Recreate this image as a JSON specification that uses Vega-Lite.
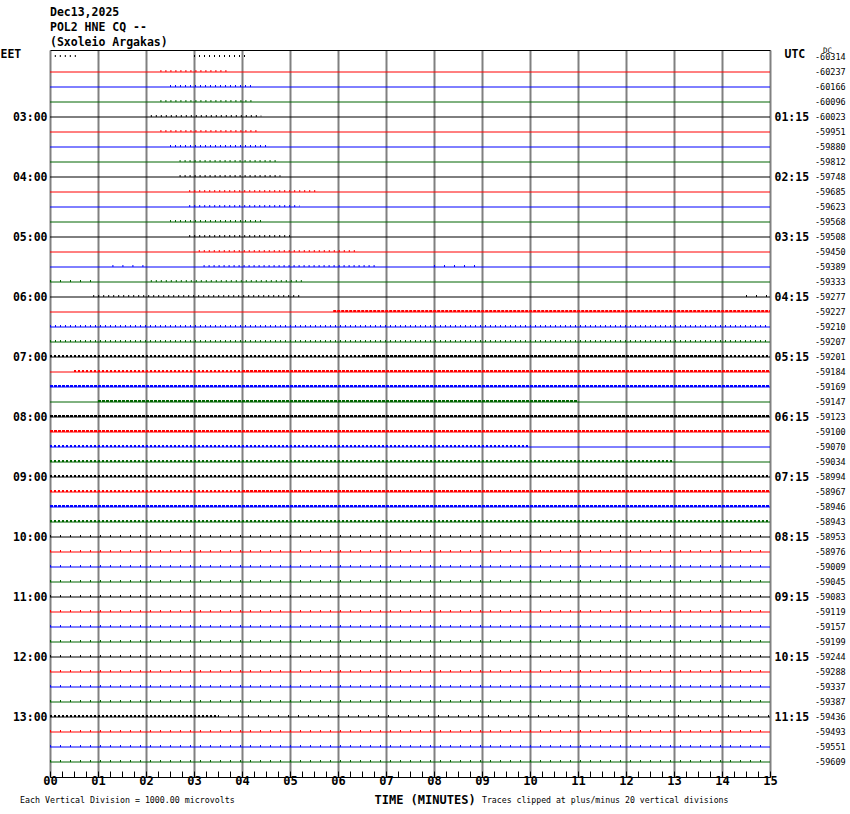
{
  "$schema": "https://vega.github.io/schema/vega-lite/v6.json",
  "width": 720,
  "height": 727,
  "autosize": {"type": "none"},
  "padding": {"left": 50, "top": 50, "right": 80, "bottom": 37},
  "background": "white",
  "config": {"view": {"stroke": null}, "font": "DejaVu Sans Mono"},
  "title": {
    "text": ["Dec13,2025", "POL2 HNE CQ --", "(Sxoleio Argakas)"],
    "anchor": "start",
    "frame": "group",
    "font": "DejaVu Sans Mono",
    "fontSize": 11.5,
    "fontWeight": "bold",
    "color": "black",
    "lineHeight": 15,
    "baseline": "bottom",
    "offset": 3,
    "dy": 15
  },
  "datasets": {
    "traces": [
      {"k": 0, "q": "00", "dc": "-60314"}, {"k": 1, "q": "15", "dc": "-60237"}, {"k": 2, "q": "30", "dc": "-60166"}, {"k": 3, "q": "45", "dc": "-60096"},
      {"k": 4, "q": "00", "dc": "-60023"}, {"k": 5, "q": "15", "dc": "-59951"}, {"k": 6, "q": "30", "dc": "-59880"}, {"k": 7, "q": "45", "dc": "-59812"},
      {"k": 8, "q": "00", "dc": "-59748"}, {"k": 9, "q": "15", "dc": "-59685"}, {"k": 10, "q": "30", "dc": "-59623"}, {"k": 11, "q": "45", "dc": "-59568"},
      {"k": 12, "q": "00", "dc": "-59508"}, {"k": 13, "q": "15", "dc": "-59450"}, {"k": 14, "q": "30", "dc": "-59389"}, {"k": 15, "q": "45", "dc": "-59333"},
      {"k": 16, "q": "00", "dc": "-59277"}, {"k": 17, "q": "15", "dc": "-59227"}, {"k": 18, "q": "30", "dc": "-59210"}, {"k": 19, "q": "45", "dc": "-59207"},
      {"k": 20, "q": "00", "dc": "-59201"}, {"k": 21, "q": "15", "dc": "-59184"}, {"k": 22, "q": "30", "dc": "-59169"}, {"k": 23, "q": "45", "dc": "-59147"},
      {"k": 24, "q": "00", "dc": "-59123"}, {"k": 25, "q": "15", "dc": "-59100"}, {"k": 26, "q": "30", "dc": "-59070"}, {"k": 27, "q": "45", "dc": "-59034"},
      {"k": 28, "q": "00", "dc": "-58994"}, {"k": 29, "q": "15", "dc": "-58967"}, {"k": 30, "q": "30", "dc": "-58946"}, {"k": 31, "q": "45", "dc": "-58943"},
      {"k": 32, "q": "00", "dc": "-58953"}, {"k": 33, "q": "15", "dc": "-58976"}, {"k": 34, "q": "30", "dc": "-59009"}, {"k": 35, "q": "45", "dc": "-59045"},
      {"k": 36, "q": "00", "dc": "-59083"}, {"k": 37, "q": "15", "dc": "-59119"}, {"k": 38, "q": "30", "dc": "-59157"}, {"k": 39, "q": "45", "dc": "-59199"},
      {"k": 40, "q": "00", "dc": "-59244"}, {"k": 41, "q": "15", "dc": "-59288"}, {"k": 42, "q": "30", "dc": "-59337"}, {"k": 43, "q": "45", "dc": "-59387"},
      {"k": 44, "q": "00", "dc": "-59436"}, {"k": 45, "q": "15", "dc": "-59493"}, {"k": 46, "q": "30", "dc": "-59551"}, {"k": 47, "q": "45", "dc": "-59609"}
    ],
    "noise": [
      {"k": 0, "q": "00", "from": 0.1, "to": 0.6, "level": "low"}, {"k": 0, "q": "00", "from": 3.0, "to": 4.1, "level": "low"},
      {"k": 1, "q": "15", "from": 2.3, "to": 3.7, "level": "low"},
      {"k": 2, "q": "30", "from": 2.5, "to": 4.2, "level": "low"},
      {"k": 3, "q": "45", "from": 2.3, "to": 4.2, "level": "low"},
      {"k": 4, "q": "00", "from": 2.1, "to": 4.4, "level": "low"},
      {"k": 5, "q": "15", "from": 2.3, "to": 4.3, "level": "low"},
      {"k": 6, "q": "30", "from": 2.5, "to": 4.5, "level": "low"},
      {"k": 7, "q": "45", "from": 2.7, "to": 4.7, "level": "low"},
      {"k": 8, "q": "00", "from": 2.7, "to": 4.8, "level": "low"},
      {"k": 9, "q": "15", "from": 2.9, "to": 5.6, "level": "low"},
      {"k": 10, "q": "30", "from": 2.9, "to": 5.2, "level": "low"},
      {"k": 11, "q": "45", "from": 2.5, "to": 4.4, "level": "low"},
      {"k": 12, "q": "00", "from": 2.9, "to": 5.0, "level": "low"},
      {"k": 13, "q": "15", "from": 3.1, "to": 6.4, "level": "low"},
      {"k": 14, "q": "30", "from": 1.3, "to": 2.1, "level": "sparse"}, {"k": 14, "q": "30", "from": 3.2, "to": 6.8, "level": "low"}, {"k": 14, "q": "30", "from": 8.0, "to": 9.0, "level": "sparse"},
      {"k": 15, "q": "45", "from": 0.0, "to": 1.0, "level": "sparse"}, {"k": 15, "q": "45", "from": 2.1, "to": 5.3, "level": "low"},
      {"k": 16, "q": "00", "from": 0.9, "to": 5.2, "level": "low"}, {"k": 16, "q": "00", "from": 14.5, "to": 15, "level": "sparse"},
      {"k": 17, "q": "15", "from": 5.9, "to": 15, "level": "high"},
      {"k": 18, "q": "30", "from": 0, "to": 15, "level": "low"},
      {"k": 19, "q": "45", "from": 0, "to": 15, "level": "low"},
      {"k": 20, "q": "00", "from": 0, "to": 6.5, "level": "mid"}, {"k": 20, "q": "00", "from": 6.5, "to": 14, "level": "high"}, {"k": 20, "q": "00", "from": 14, "to": 15, "level": "mid"},
      {"k": 21, "q": "15", "from": 0.5, "to": 4, "level": "mid"}, {"k": 21, "q": "15", "from": 4, "to": 15, "level": "high"},
      {"k": 22, "q": "30", "from": 0, "to": 15, "level": "high"},
      {"k": 23, "q": "45", "from": 1, "to": 11, "level": "high"},
      {"k": 24, "q": "00", "from": 0, "to": 15, "level": "high"},
      {"k": 25, "q": "15", "from": 0, "to": 15, "level": "high"},
      {"k": 26, "q": "30", "from": 0, "to": 10, "level": "mid"},
      {"k": 27, "q": "45", "from": 0, "to": 13, "level": "mid"},
      {"k": 28, "q": "00", "from": 0, "to": 15, "level": "mid"},
      {"k": 29, "q": "15", "from": 0, "to": 4, "level": "mid"}, {"k": 29, "q": "15", "from": 4, "to": 15, "level": "high"},
      {"k": 30, "q": "30", "from": 0, "to": 15, "level": "high"},
      {"k": 31, "q": "45", "from": 0, "to": 15, "level": "mid"},
      {"k": 32, "q": "00", "from": 0, "to": 15, "level": "sparse"},
      {"k": 33, "q": "15", "from": 0, "to": 15, "level": "sparse"},
      {"k": 34, "q": "30", "from": 0, "to": 15, "level": "sparse"},
      {"k": 35, "q": "45", "from": 0, "to": 15, "level": "sparse"},
      {"k": 36, "q": "00", "from": 0, "to": 15, "level": "sparse"},
      {"k": 37, "q": "15", "from": 0, "to": 15, "level": "sparse"},
      {"k": 38, "q": "30", "from": 0, "to": 15, "level": "sparse"},
      {"k": 39, "q": "45", "from": 0, "to": 15, "level": "sparse"},
      {"k": 40, "q": "00", "from": 0, "to": 15, "level": "sparse"},
      {"k": 41, "q": "15", "from": 0, "to": 15, "level": "sparse"},
      {"k": 42, "q": "30", "from": 0, "to": 15, "level": "sparse"},
      {"k": 43, "q": "45", "from": 0, "to": 15, "level": "sparse"},
      {"k": 44, "q": "00", "from": 0, "to": 3.5, "level": "mid"}, {"k": 44, "q": "00", "from": 3.5, "to": 15, "level": "sparse"},
      {"k": 45, "q": "15", "from": 0, "to": 15, "level": "sparse"},
      {"k": 46, "q": "30", "from": 0, "to": 15, "level": "sparse"},
      {"k": 47, "q": "45", "from": 0, "to": 15, "level": "sparse"}
    ]
  },
  "layer": [
    {
      "data": {"name": "traces"},
      "transform": [{"filter": "datum.k > 0"}],
      "mark": {"type": "rule", "strokeWidth": 1},
      "encoding": {
        "x": {
          "datum": 0,
          "type": "quantitative",
          "scale": {"domain": [0, 15], "nice": false, "zero": false},
          "axis": {
            "orient": "bottom",
            "values": [0, 0.25, 0.5, 0.75, 1, 1.25, 1.5, 1.75, 2, 2.25, 2.5, 2.75, 3, 3.25, 3.5, 3.75, 4, 4.25, 4.5, 4.75, 5, 5.25, 5.5, 5.75, 6, 6.25, 6.5, 6.75, 7, 7.25, 7.5, 7.75, 8, 8.25, 8.5, 8.75, 9, 9.25, 9.5, 9.75, 10, 10.25, 10.5, 10.75, 11, 11.25, 11.5, 11.75, 12, 12.25, 12.5, 12.75, 13, 13.25, 13.5, 13.75, 14, 14.25, 14.5, 14.75, 15],
            "labelExpr": "datum.value % 1 == 0 ? (datum.value < 10 ? '0' : '') + datum.value : ''",
            "labelFont": "DejaVu Sans Mono",
            "labelFontWeight": "bold",
            "labelFontSize": 12,
            "labelColor": "black",
            "labelPadding": 4,
            "labelFlush": false,
            "labelOverlap": false,
            "tickSize": -6,
            "tickColor": "black",
            "tickWidth": 1,
            "domainColor": "black",
            "domainWidth": 1,
            "grid": true,
            "gridColor": "#808080",
            "gridWidth": 2,
            "gridOpacity": {"condition": {"test": "datum.value % 1 == 0", "value": 1}, "value": 0},
            "title": "TIME (MINUTES)",
            "titleFont": "DejaVu Sans Mono",
            "titleFontWeight": "bold",
            "titleFontSize": 12,
            "titleColor": "black",
            "titleX": 324,
            "titleY": 22,
            "titleAlign": "left",
            "titleBaseline": "middle"
          }
        },
        "x2": {"datum": 15},
        "y": {
          "field": "k",
          "type": "quantitative",
          "scale": {"domain": [-0.4667, 48], "reverse": true, "nice": false, "zero": false},
          "axis": {
            "orient": "left",
            "values": [4, 8, 12, 16, 20, 24, 28, 32, 36, 40, 44],
            "labelExpr": "(2 + datum.value / 4 < 10 ? '0' : '') + (2 + datum.value / 4) + ':00'",
            "labelFont": "DejaVu Sans Mono",
            "labelFontWeight": "bold",
            "labelFontSize": 11.5,
            "labelColor": "black",
            "labelPadding": 3,
            "labelBaseline": "middle",
            "domain": false,
            "ticks": false,
            "grid": false,
            "title": "EET",
            "titleAngle": 0,
            "titleX": -50,
            "titleY": 4,
            "titleAlign": "left",
            "titleBaseline": "middle",
            "titleFont": "DejaVu Sans Mono",
            "titleFontWeight": "bold",
            "titleFontSize": 11.5,
            "titleColor": "black"
          }
        },
        "color": {
          "field": "q",
          "type": "nominal",
          "scale": {"domain": ["00", "15", "30", "45"], "range": ["#000000", "#ff0000", "#0000ff", "#006400"]},
          "legend": null
        }
      }
    },
    {
      "data": {"name": "noise"},
      "mark": {"type": "rule", "yOffset": -1},
      "encoding": {
        "x": {
          "field": "from",
          "type": "quantitative",
          "scale": {"domain": [0, 15], "nice": false, "zero": false},
          "axis": {"orient": "top", "domain": true, "domainColor": "black", "domainWidth": 1, "ticks": false, "labels": false, "grid": false, "title": null}
        },
        "x2": {"field": "to"},
        "y": {
          "field": "k",
          "type": "quantitative",
          "scale": {"domain": [-0.4667, 48], "reverse": true, "nice": false, "zero": false},
          "axis": {
            "orient": "right",
            "values": [4, 8, 12, 16, 20, 24, 28, 32, 36, 40, 44],
            "labelExpr": "(datum.value / 4 < 10 ? '0' : '') + (datum.value / 4) + ':15'",
            "labelFont": "DejaVu Sans Mono",
            "labelFontWeight": "bold",
            "labelFontSize": 11.5,
            "labelColor": "black",
            "labelPadding": 4,
            "labelBaseline": "middle",
            "domain": false,
            "ticks": false,
            "grid": false,
            "title": "UTC",
            "titleAngle": 0,
            "titleX": 14,
            "titleY": 4,
            "titleAlign": "left",
            "titleBaseline": "middle",
            "titleFont": "DejaVu Sans Mono",
            "titleFontWeight": "bold",
            "titleFontSize": 11.5,
            "titleColor": "black"
          }
        },
        "color": {
          "field": "q",
          "type": "nominal",
          "scale": {"domain": ["00", "15", "30", "45"], "range": ["#000000", "#ff0000", "#0000ff", "#006400"]},
          "legend": null
        },
        "strokeDash": {
          "field": "level",
          "type": "nominal",
          "scale": {"domain": ["sparse", "low", "mid", "high"], "range": [[1, 9], [1, 4], [2, 2], [3, 1]]},
          "legend": null
        },
        "strokeWidth": {
          "field": "level",
          "type": "nominal",
          "scale": {"domain": ["sparse", "low", "mid", "high"], "range": [2, 2, 2, 2.5]},
          "legend": null
        }
      }
    },
    {
      "data": {"name": "traces"},
      "mark": {"type": "text", "align": "left", "baseline": "middle", "dx": 45, "font": "DejaVu Sans Mono", "fontSize": 8.5, "color": "black"},
      "encoding": {
        "x": {"datum": 15, "type": "quantitative", "scale": {"domain": [0, 15], "nice": false, "zero": false}, "axis": null},
        "y": {"field": "k", "type": "quantitative", "scale": {"domain": [-0.4667, 48], "reverse": true, "nice": false, "zero": false}, "axis": null},
        "text": {"field": "dc"}
      }
    },
    {
      "data": {"values": [{}]},
      "mark": {"type": "text", "text": "DC", "align": "left", "baseline": "middle", "dx": 53, "font": "DejaVu Sans Mono", "fontSize": 7.5, "color": "black"},
      "encoding": {
        "x": {"datum": 15, "type": "quantitative", "scale": {"domain": [0, 15], "nice": false, "zero": false}, "axis": null},
        "y": {"datum": -0.4, "type": "quantitative", "scale": {"domain": [-0.4667, 48], "reverse": true, "nice": false, "zero": false}, "axis": null}
      }
    },
    {
      "data": {"values": [{}]},
      "mark": {"type": "text", "text": "Each Vertical Division = 1000.00 microvolts", "align": "left", "baseline": "middle", "font": "DejaVu Sans Mono", "fontSize": 8.3, "color": "black"},
      "encoding": {
        "x": {"datum": -0.625, "type": "quantitative", "scale": {"domain": [0, 15], "nice": false, "zero": false}, "axis": null},
        "y": {"datum": 49.6, "type": "quantitative", "scale": {"domain": [-0.4667, 48], "reverse": true, "nice": false, "zero": false}, "axis": null}
      }
    },
    {
      "data": {"values": [{}]},
      "mark": {"type": "text", "text": "Traces clipped at plus/minus 20 vertical divisions", "align": "left", "baseline": "middle", "font": "DejaVu Sans Mono", "fontSize": 8.2, "color": "black"},
      "encoding": {
        "x": {"datum": 9.0, "type": "quantitative", "scale": {"domain": [0, 15], "nice": false, "zero": false}, "axis": null},
        "y": {"datum": 49.6, "type": "quantitative", "scale": {"domain": [-0.4667, 48], "reverse": true, "nice": false, "zero": false}, "axis": null}
      }
    }
  ],
  "resolve": {"scale": {"x": "independent", "y": "independent", "color": "shared"}, "axis": {"x": "independent", "y": "independent"}}
}
